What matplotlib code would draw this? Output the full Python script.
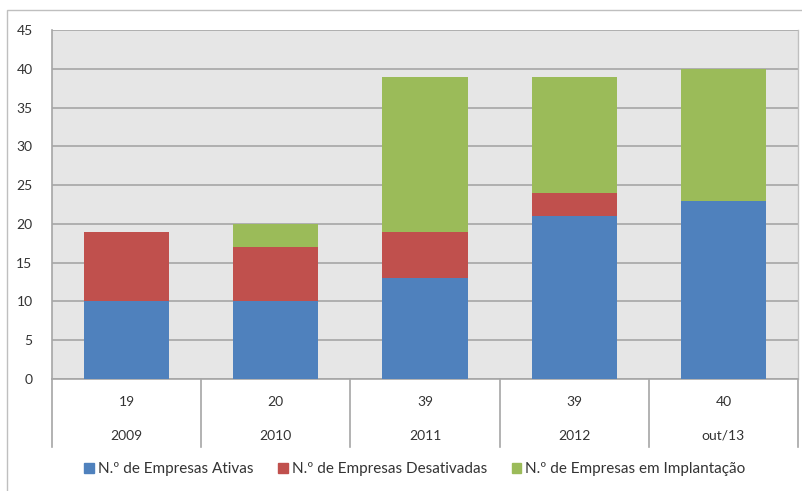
import matplotlib.pyplot as plt
from matplotlib.patches import Patch, Rectangle

# companies per period
periods = ['2009', '2010', '2011', '2012', 'out/13']
ativas = [10, 10, 13, 21, 23]
desativadas = [9, 7, 6, 3, 0]
implantacao = [0, 3, 20, 15, 17]
totals = [19, 20, 39, 39, 40]

series_names = ['N.º de Empresas Ativas', 'N.º de Empresas Desativadas',
                'N.º de Empresas em Implantação']
colors = ['#4F81BD', '#C0504D', '#9BBB59']

plt.rcParams['font.family'] = ['Lato', 'DejaVu Sans']

fig = plt.figure(figsize=(8.03, 4.91), dpi=100)
ax = fig.add_axes([52 / 803, 1 - 379 / 491, 746 / 803, 349 / 491])
ax.set_facecolor('#E6E6E6')

x = list(range(len(periods)))
bottom2 = [a + d for a, d in zip(ativas, desativadas)]
ax.bar(x, ativas, width=0.57, color=colors[0], linewidth=0, zorder=3)
ax.bar(x, desativadas, width=0.57, bottom=ativas, color=colors[1], linewidth=0, zorder=3)
ax.bar(x, implantacao, width=0.57, bottom=bottom2, color=colors[2], linewidth=0, zorder=3)

ax.set_xlim(-0.5, len(periods) - 0.5)
ax.set_ylim(0, 45)
ax.set_yticks(range(0, 46, 5))
ax.yaxis.grid(True, color='#A6A6A6', linewidth=1.2, zorder=1)
ax.set_xticks([])
ax.tick_params(axis='y', length=0, pad=14, labelsize=10, labelcolor='#333333')
for s in ['top', 'right']:
    ax.spines[s].set_visible(False)
ax.spines['left'].set_color('#A6A6A6')
ax.spines['bottom'].set_color('#A6A6A6')
ax.spines['left'].set_linewidth(1.2)
ax.spines['bottom'].set_linewidth(1.2)

# data table under the axis: totals and period labels
tr = ax.get_xaxis_transform()
for i in range(len(periods) + 1):
    ax.plot([i - 0.5, i - 0.5], [0, -0.195], transform=tr, color='#A6A6A6',
            linewidth=1.2, clip_on=False)
ax.plot([len(periods) - 0.5] * 2, [0, 1], transform=tr, color='#BFBFBF',
        linewidth=1.0, clip_on=False)
for i, (p, t) in enumerate(zip(periods, totals)):
    ax.text(i, -0.066, str(t), transform=tr, ha='center', va='center',
            fontsize=10, color='#333333')
    ax.text(i, -0.163, p, transform=tr, ha='center', va='center',
            fontsize=10, color='#333333')

handles = [Patch(facecolor=c, edgecolor=c) for c in colors]
fig.legend(handles, series_names, loc='center', bbox_to_anchor=(415 / 803, 1 - 469 / 491),
           ncol=3, frameon=False, fontsize=11, handlelength=0.65, handleheight=0.65,
           handletextpad=0.25, columnspacing=1.6, labelcolor='#333333')

# chart area border
fig.add_artist(Rectangle((7 / 803, -0.01), 1.0, 1 - 10 / 491 + 0.01, transform=fig.transFigure,
                         fill=False, edgecolor='#BFBFBF', linewidth=1.0))

fig.savefig('out.png', dpi=100)
